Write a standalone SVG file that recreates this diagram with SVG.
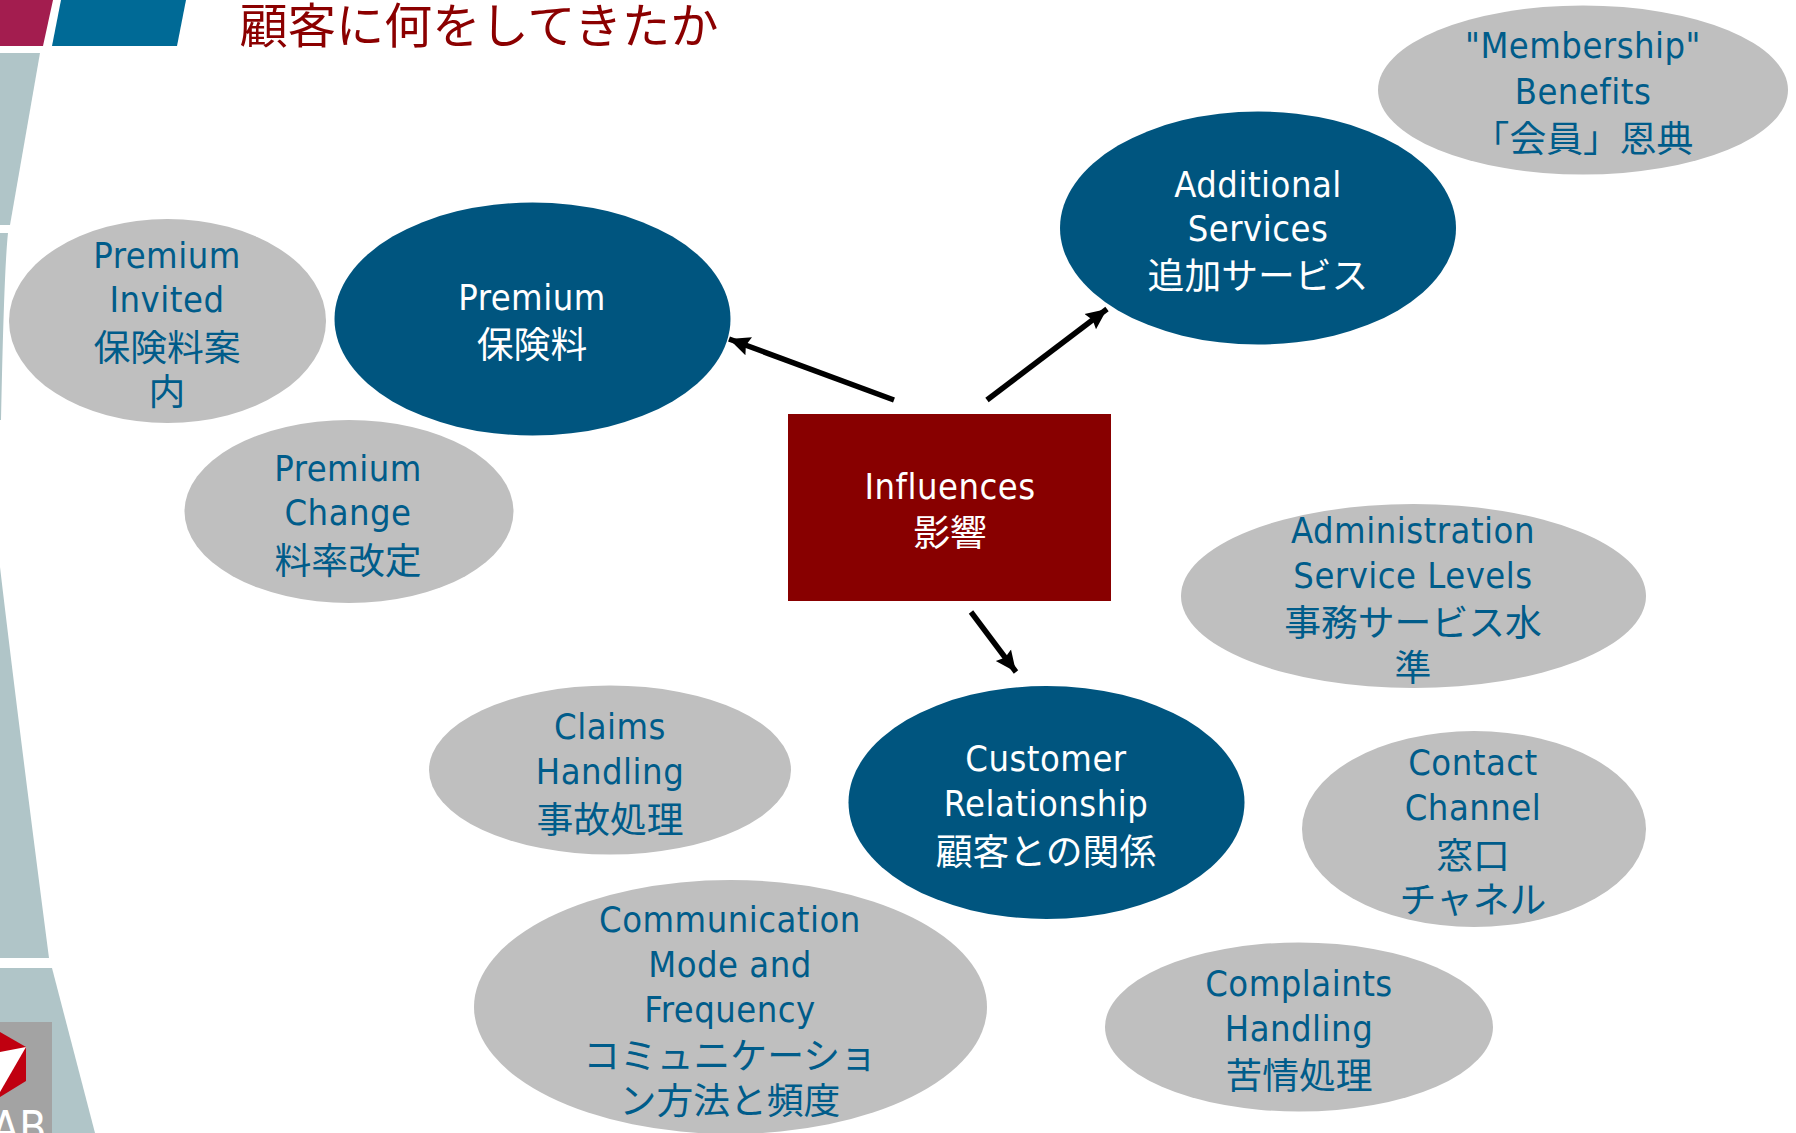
<svg xmlns="http://www.w3.org/2000/svg" width="1796" height="1133" viewBox="0 0 1796 1133">
<style>
text{font-family:"DejaVu Sans Condensed","DejaVu Sans","Noto Sans CJK JP",sans-serif;font-size:36px;letter-spacing:.5px;text-anchor:middle}
.j{font-family:"Noto Sans CJK JP","Noto Sans CJK SC",sans-serif;font-size:36.8px;font-weight:400;letter-spacing:0;text-spacing-trim:space-all}
.w{fill:#fff}.b{fill:#005c8a}
.big{fill:#00557f}.sub{fill:#bfbfbf}
.conn{stroke:#000;stroke-width:5.500;fill:none;marker-end:url(#ah)}
.strip{fill:#b0c5c8}
</style>
<defs>
<marker id="ah" markerUnits="userSpaceOnUse" markerWidth="24" markerHeight="24" viewBox="0 0 24 24" refX="21" refY="12" orient="auto"><path d="M0,2.500L21,12L0,21.500L3,12Z" fill="#000"/></marker>
</defs>
<rect width="1796" height="1133" fill="#fff"/>
<g id="background">
<path d="M0,0H53L43,46H0Z" fill="#a31d4f"/>
<path d="M61,0H186L177,46H52Z" fill="#006a96"/>
<path class="strip" d="M0,53H40L10,225H0Z"/>
<path class="strip" d="M0,233H8Q4,270 1,420H0Z"/>
<path class="strip" d="M0,567Q18,720 49,958H0Z"/>
<path class="strip" d="M0,968H52L95,1133H0Z"/>
<rect x="0" y="1022" width="52" height="111" fill="#a3a3a3"/>
<path d="M0,1032L26,1047V1081L0,1097Z" fill="#c00010"/>
<path d="M26,1047L0,1052V1092Z" fill="#fff"/>
<text x="47" y="1143" class="w" style="text-anchor:end;font-size:44px">AB</text>
</g>
<text id="title" x="479" y="43" class="j" style="font-size:48.200px;fill:#8b0000">顧客に何をしてきたか</text>
<g id="connectors">
<path class="conn" d="M894,400L729,339"/>
<path class="conn" d="M987,400L1107,309"/>
<path class="conn" d="M971,612L1016,672"/>
</g>
<g id="influences"><rect x="788" y="414" width="323" height="187" fill="#880000"/><text x="950" y="498.500" class="w">Influences</text><text x="950" y="546" class="w j">影響</text></g>
<g id="premium"><ellipse class="big" cx="532.500" cy="319" rx="198" ry="116.500"/><text x="532" y="310" class="w">Premium</text><text x="532" y="358" class="w j">保険料</text></g>
<g id="additional-services"><ellipse class="big" cx="1258" cy="228" rx="198" ry="116.500"/><text x="1258" y="197" class="w">Additional</text><text x="1258" y="241" class="w">Services</text><text x="1258" y="289" class="w j">追加サービス</text></g>
<g id="customer-relationship"><ellipse class="big" cx="1046.500" cy="802.500" rx="198" ry="116.500"/><text x="1046" y="770.500" class="w">Customer</text><text x="1046" y="815.500" class="w">Relationship</text><text x="1046" y="864.500" class="w j">顧客との関係</text></g>
<g id="premium-invited"><ellipse class="sub" cx="167.500" cy="321" rx="158.500" ry="102"/><text x="167" y="268" class="b">Premium</text><text x="167" y="311.500" class="b">Invited</text><text x="167" y="361" class="b j">保険料案</text><text x="167" y="405" class="b j">内</text></g>
<g id="premium-change"><ellipse class="sub" cx="349" cy="511.500" rx="164.500" ry="91.500"/><text x="348" y="481" class="b">Premium</text><text x="348" y="524.500" class="b">Change</text><text x="348" y="574" class="b j">料率改定</text></g>
<g id="membership-benefits"><ellipse class="sub" cx="1583" cy="90" rx="205" ry="84.500"/><text x="1583" y="58" class="b">"Membership"</text><text x="1583" y="103.500" class="b">Benefits</text><text x="1583" y="152" class="b j">「会員」恩典</text></g>
<g id="administration-service-levels"><ellipse class="sub" cx="1413.500" cy="596" rx="232.500" ry="92"/><text x="1413" y="543" class="b">Administration</text><text x="1413" y="587.500" class="b">Service Levels</text><text x="1413" y="636" class="b j">事務サービス水</text><text x="1413" y="681" class="b j">準</text></g>
<g id="claims-handling"><ellipse class="sub" cx="610" cy="770" rx="181" ry="84.500"/><text x="610" y="738.500" class="b">Claims</text><text x="610" y="783.500" class="b">Handling</text><text x="610" y="833" class="b j">事故処理</text></g>
<g id="contact-channel"><ellipse class="sub" cx="1474" cy="829" rx="172" ry="98"/><text x="1473" y="775" class="b">Contact</text><text x="1473" y="820" class="b">Channel</text><text x="1473" y="869" class="b j">窓口</text><text x="1473" y="913" class="b j">チャネル</text></g>
<g id="communication-mode"><ellipse class="sub" cx="730.500" cy="1007" rx="256.500" ry="127"/><text x="730" y="932" class="b">Communication</text><text x="730" y="976.500" class="b">Mode and</text><text x="730" y="1021.500" class="b">Frequency</text><text x="730" y="1069" class="b j">コミュニケーショ</text><text x="730" y="1114" class="b j">ン方法と頻度</text></g>
<g id="complaints-handling"><ellipse class="sub" cx="1299" cy="1027" rx="194" ry="84.500"/><text x="1299" y="995.500" class="b">Complaints</text><text x="1299" y="1040.500" class="b">Handling</text><text x="1299" y="1089" class="b j">苦情処理</text></g>
</svg>
